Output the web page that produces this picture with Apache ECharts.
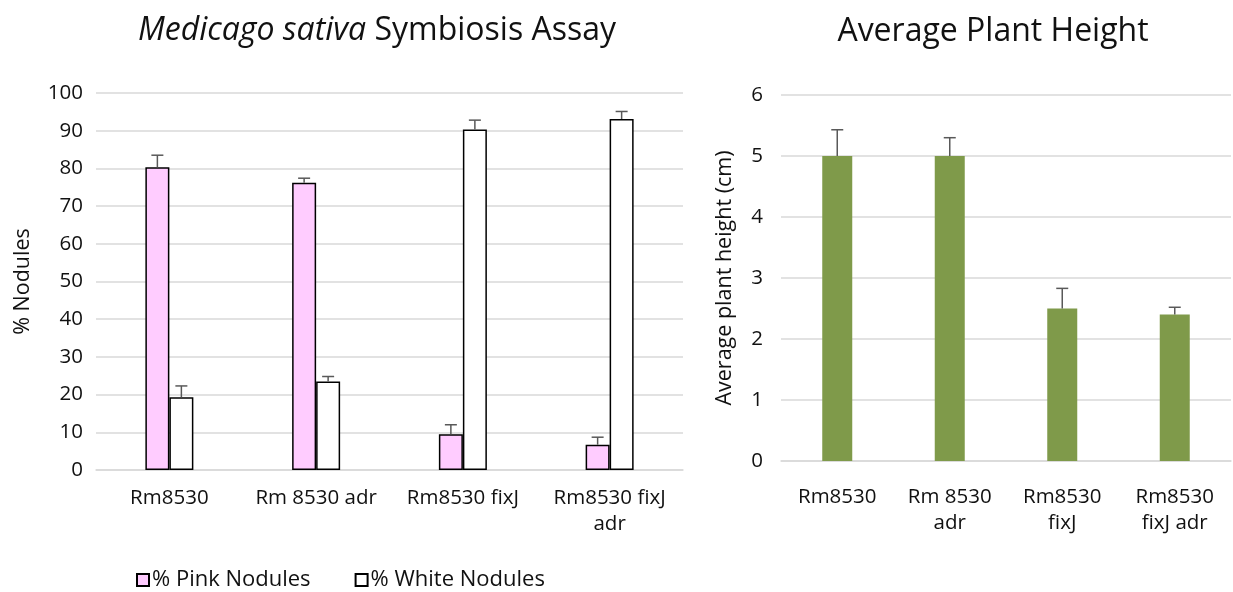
<!DOCTYPE html>
<html>
<head>
<meta charset="utf-8">
<script src="https://cdn.jsdelivr.net/npm/echarts@6/dist/echarts.min.js"></script>
<style>
  html, body { margin: 0; padding: 0; background: #fff; }
  #chart { width: 1233px; height: 592px; }
</style>
</head>
<body>
<div id="chart"></div>
<script>
// Nodule assay (left panel)
const strains = ['Rm8530', 'Rm 8530 adr', 'Rm8530 fixJ', 'Rm8530 fixJ adr'];
const noduleTickLabels = ['Rm8530', 'Rm 8530 adr', 'Rm8530 fixJ', 'Rm8530 fixJ\nadr'];
const pinkNodules = [80.3, 76.2, 9.5, 6.7];
const pinkErr = [3.2, 1.2, 2.5, 2.0];
const whiteNodules = [19.3, 23.5, 90.3, 93.1];
const whiteErr = [3.0, 1.3, 2.5, 2.0];

// Plant height (right panel)
const heightTickLabels = ['Rm8530', 'Rm 8530\nadr', 'Rm8530\nfixJ', 'Rm8530\nfixJ adr'];
const plantHeight = [5.0, 5.0, 2.5, 2.4];
const heightErr = [0.43, 0.30, 0.33, 0.12];

const FONT = '"Open Sans", "Noto Sans", sans-serif';
const TEXT = '#111';
const GRID = '#d9d9d9';
const ERR = '#595959';

// Plus-only error bar with a short cap, shifted sideways to sit on its bar
function errorBars(offset) {
  return function (params, api) {
    const i = api.value(0), v = api.value(1), e = api.value(2);
    const base = api.coord([i, v]);
    const top = api.coord([i, v + e]);
    const x = base[0] + offset;
    const cap = 6;
    const style = { stroke: ERR, lineWidth: 1.5 };
    return {
      type: 'group',
      children: [
        { type: 'line', shape: { x1: x, y1: base[1], x2: x, y2: top[1] }, style },
        { type: 'line', shape: { x1: x - cap, y1: top[1], x2: x + cap, y2: top[1] }, style }
      ]
    };
  };
}

function errData(values, errs) {
  return values.map((v, i) => [i, v, errs[i]]);
}

const axisText = { color: TEXT, fontFamily: FONT, fontSize: 20.5 };
const nameText = { color: TEXT, fontFamily: FONT, fontSize: 21.5 };

const option = {
  animation: false,
  textStyle: { fontFamily: FONT },
  title: [
    {
      text: '{it|Medicago sativa}{n| Symbiosis Assay}',
      left: 372, top: 10, textAlign: 'center',
      textStyle: {
        rich: {
          it: { fontFamily: FONT, fontSize: 32, fontStyle: 'italic', fontWeight: 'normal', color: TEXT },
          n: { fontFamily: FONT, fontSize: 32, fontWeight: 'normal', color: TEXT }
        }
      }
    },
    {
      text: 'Average Plant Height',
      left: 988, top: 11, textAlign: 'center',
      textStyle: { fontFamily: FONT, fontSize: 32, fontWeight: 'normal', color: TEXT }
    }
  ],
  legend: {
    left: 131, top: 564,
    itemWidth: 12, itemHeight: 12, itemGap: 44,
    icon: 'rect',
    textStyle: { color: TEXT, fontFamily: FONT, fontSize: 22, padding: [0, 0, 0, -2] },
    data: ['% Pink Nodules', '% White Nodules']
  },
  grid: [
    { left: 96, right: 1233 - 683, top: 93, bottom: 592 - 470 },
    { left: 781, right: 2, top: 95, bottom: 592 - 461 }
  ],
  xAxis: [
    {
      gridIndex: 0, type: 'category', data: strains,
      axisLine: { lineStyle: { color: GRID, width: 1.5 } },
      axisTick: { show: false },
      axisLabel: Object.assign({ interval: 0, hideOverlap: false, margin: 15, lineHeight: 26, formatter: (v, i) => noduleTickLabels[i] }, axisText)
    },
    {
      gridIndex: 1, type: 'category', data: strains,
      axisLine: { lineStyle: { color: GRID, width: 1.5 } },
      axisTick: { show: false },
      axisLabel: Object.assign({ interval: 0, hideOverlap: false, margin: 23, lineHeight: 26, formatter: (v, i) => heightTickLabels[i] }, axisText)
    }
  ],
  yAxis: [
    {
      gridIndex: 0, type: 'value', min: 0, max: 100, interval: 10,
      name: '% Nodules', nameLocation: 'middle', nameGap: 62, nameRotate: 90,
      nameTextStyle: nameText,
      axisLine: { show: false }, axisTick: { show: false },
      splitLine: { lineStyle: { color: GRID, width: 1.5 } },
      axisLabel: Object.assign({ margin: 13 }, axisText)
    },
    {
      gridIndex: 1, type: 'value', min: 0, max: 6, interval: 1,
      name: 'Average plant height (cm)', nameLocation: 'middle', nameGap: 45, nameRotate: 90,
      nameTextStyle: nameText,
      axisLine: { show: false }, axisTick: { show: false },
      splitLine: { lineStyle: { color: GRID, width: 1.5 } },
      axisLabel: Object.assign({ margin: 18 }, axisText)
    }
  ],
  series: [
    {
      name: '% Pink Nodules', type: 'bar', xAxisIndex: 0, yAxisIndex: 0,
      data: pinkNodules, barWidth: 24, barGap: '0%',
      itemStyle: { color: '#ffccff', borderColor: '#000', borderWidth: 1.5 }
    },
    {
      name: '% White Nodules', type: 'bar', xAxisIndex: 0, yAxisIndex: 0,
      data: whiteNodules, barWidth: 24, barGap: '0%',
      itemStyle: { color: '#ffffff', borderColor: '#000', borderWidth: 1.5 }
    },
    {
      type: 'custom', xAxisIndex: 0, yAxisIndex: 0, z: 5,
      renderItem: errorBars(-12), data: errData(pinkNodules, pinkErr)
    },
    {
      type: 'custom', xAxisIndex: 0, yAxisIndex: 0, z: 5,
      renderItem: errorBars(12), data: errData(whiteNodules, whiteErr)
    },
    {
      name: 'Average plant height', type: 'bar', xAxisIndex: 1, yAxisIndex: 1,
      data: plantHeight, barWidth: 30,
      itemStyle: { color: '#7f9a4a' }
    },
    {
      type: 'custom', xAxisIndex: 1, yAxisIndex: 1, z: 5,
      renderItem: errorBars(0), data: errData(plantHeight, heightErr)
    }
  ]
};

echarts.init(document.getElementById('chart'), null, { renderer: 'canvas' }).setOption(option);
</script>
</body>
</html>
